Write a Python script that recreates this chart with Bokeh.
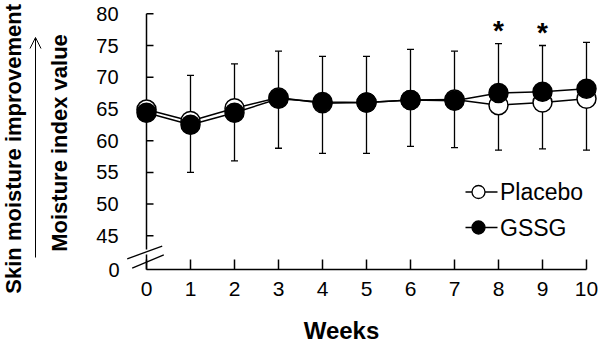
import math
from bokeh.plotting import figure
from bokeh.models import (Range1d, ColumnDataSource, Whisker, TeeHead, Arrow, OpenHead)
from bokeh.core.properties import value
from bokeh.embed import file_html
from bokeh.resources import INLINE

# ---------------- data ----------------
weeks = [0, 1, 2, 3, 4, 5, 6, 7, 8, 9, 10]
x_tick_labels = ["0", "1", "2", "3", "4", "5", "6", "7", "8", "9", "10"]
placebo = [64.9, 63.1, 65.1, 66.8, 65.9, 66.0, 66.4, 66.5, 65.6, 66.0, 66.6]
gssg = [64.4, 62.5, 64.4, 66.6, 66.1, 66.0, 66.4, 66.3, 67.5, 67.7, 68.2]
err_upper = [None, 70.3, 72.1, 74.1, 73.3, 73.3, 74.4, 74.1, 75.3, 75.0, 75.5]
err_lower = [None, 55.0, 56.8, 58.8, 58.0, 58.0, 59.1, 58.9, 58.5, 58.7, 58.5]
y_tick_values = [45, 50, 55, 60, 65, 70, 75, 80]
y_tick_labels = ["45", "50", "55", "60", "65", "70", "75", "80"]
y_break_label = "0"
sig_weeks = [8, 9]
series_names = ["Placebo", "GSSG"]
x_title = "Weeks"
y_title_inner = "Moisture index value"
y_title_outer = "Skin moisture improvement"

# ---------------- layout constants ----------------
FONT = "Liberation Sans"
PX_X = 44.0            # pixels per week
X0_PX = 146.0          # pixel of week 0
PX_Y = 6.343           # pixels per index unit
Y80_PX = 13.3          # pixel of value 80
AXIS_PX = 269.0        # pixel row of the x axis (real value 0 after the break)
W, H = 598, 354

x_start = -X0_PX / PX_X
x_end = x_start + W / PX_X
y_end = 80 + Y80_PX / PX_Y
y_start = y_end - H / PX_Y


def px_x(px):
    """pixel column -> data x"""
    return (px - X0_PX) / PX_X


def px_y(py):
    """pixel row -> display y"""
    return 80 - (py - Y80_PX) / PX_Y


BREAK_POS = px_y(AXIS_PX)   # display position of the real value 0

p = figure(frame_width=W, frame_height=H,
           x_range=Range1d(x_start, x_end), y_range=Range1d(y_start, y_end),
           toolbar_location=None, output_backend="svg", min_border=0,
           x_axis_location=None, y_axis_location=None)
p.grid.visible = False
p.outline_line_color = None
p.background_fill_color = "white"
p.border_fill_color = "white"

# ---------------- x axis ----------------
p.segment(x0=[weeks[0]], y0=[BREAK_POS], x1=[weeks[-1]], y1=[BREAK_POS],
          line_color="black", line_width=1.5)
p.segment(x0=weeks, y0=[BREAK_POS] * len(weeks), x1=weeks,
          y1=[BREAK_POS + 10 / PX_Y] * len(weeks),
          line_color="black", line_width=1.5)
p.text(x=weeks, y=[px_y(288)] * len(weeks), text=x_tick_labels,
       text_font=value(FONT), text_font_size="21px", text_color="black",
       text_align="center", text_baseline="middle")
p.text(x=[px_x(341)], y=[px_y(330)], text=[x_title],
       text_font=value(FONT), text_font_size="24px", text_font_style="bold",
       text_color="black", text_align="center", text_baseline="middle")

# ---------------- broken y axis ----------------
p.segment(x0=[0, 0], y0=[80, px_y(254)], x1=[0, 0], y1=[px_y(249), BREAK_POS],
          line_color="black", line_width=1.5)
p.segment(x0=[0] * len(y_tick_values), y0=y_tick_values,
          x1=[7 / PX_X] * len(y_tick_values), y1=y_tick_values,
          line_color="black", line_width=1.5)
p.text(x=[px_x(118)] * len(y_tick_values) + [px_x(119)],
       y=y_tick_values + [BREAK_POS],
       text=y_tick_labels + [y_break_label],
       text_font=value(FONT), text_font_size="20px", text_color="black",
       text_align="right", text_baseline="middle")
# break marks
p.segment(x0=[px_x(126.7), px_x(131.7)], y0=[px_y(258.3), px_y(267.7)],
          x1=[px_x(161.7), px_x(163.3)], y1=[px_y(245.7), px_y(254.3)],
          line_color="black", line_width=1.3)

# y titles and arrow
p.text(x=[px_x(12.5), px_x(59.4)], y=[px_y(148.3), px_y(142.5)],
       text=[y_title_outer, y_title_inner], angle=math.pi / 2,
       text_font=value(FONT), text_font_size="22px", text_font_style="bold",
       text_color="black", text_align="center", text_baseline="middle")
p.add_layout(Arrow(x_start=px_x(35), y_start=px_y(257),
                   x_end=px_x(35), y_end=px_y(37),
                   line_width=1, line_color="black",
                   end=OpenHead(size=11, line_width=1, line_color="black")))

# ---------------- error bars ----------------
eb = [(w, u, l) for w, u, l in zip(weeks, err_upper, err_lower) if u is not None]
err_src = ColumnDataSource(data=dict(base=[e[0] for e in eb],
                                     upper=[e[1] for e in eb],
                                     lower=[e[2] for e in eb]))
p.add_layout(Whisker(base="base", upper="upper", lower="lower", source=err_src,
                     line_color="black", line_width=1.3,
                     upper_head=TeeHead(size=7, line_width=1.3, line_color="black"),
                     lower_head=TeeHead(size=7, line_width=1.3, line_color="black")))

# ---------------- series ----------------
p.line(weeks, placebo, line_color="black", line_width=1.5)
p.line(weeks, gssg, line_color="black", line_width=1.5)
p.scatter(weeks, placebo, size=19, marker="circle", fill_color="white",
          line_color="black", line_width=1.5)
p.scatter(weeks, gssg, size=19, marker="circle", fill_color="black",
          line_color="black", line_width=1.5)

# significance marks
sig_y = [err_upper[weeks.index(w)] + 12.7 / PX_Y for w in sig_weeks]
p.text(x=sig_weeks, y=sig_y, text=["*"] * len(sig_weeks),
       text_font=value(FONT), text_font_size="28px", text_font_style="bold",
       text_color="black", text_align="center", text_baseline="middle")

# ---------------- legend (drawn) ----------------
leg_y = [px_y(191.5), px_y(227.0)]
p.segment(x0=[px_x(465)] * 2, y0=leg_y, x1=[px_x(497)] * 2, y1=leg_y,
          line_color="black", line_width=1.5)
p.scatter([px_x(478)] * 2, leg_y, size=13, marker="circle",
          fill_color=["white", "black"], line_color="black", line_width=1.3)
p.text(x=[px_x(499.5)] * 2, y=leg_y, text=series_names,
       text_font=value(FONT), text_font_size="23px", text_color="black",
       text_align="left", text_baseline="middle")

open("out.html", "w").write(file_html(p, INLINE))
